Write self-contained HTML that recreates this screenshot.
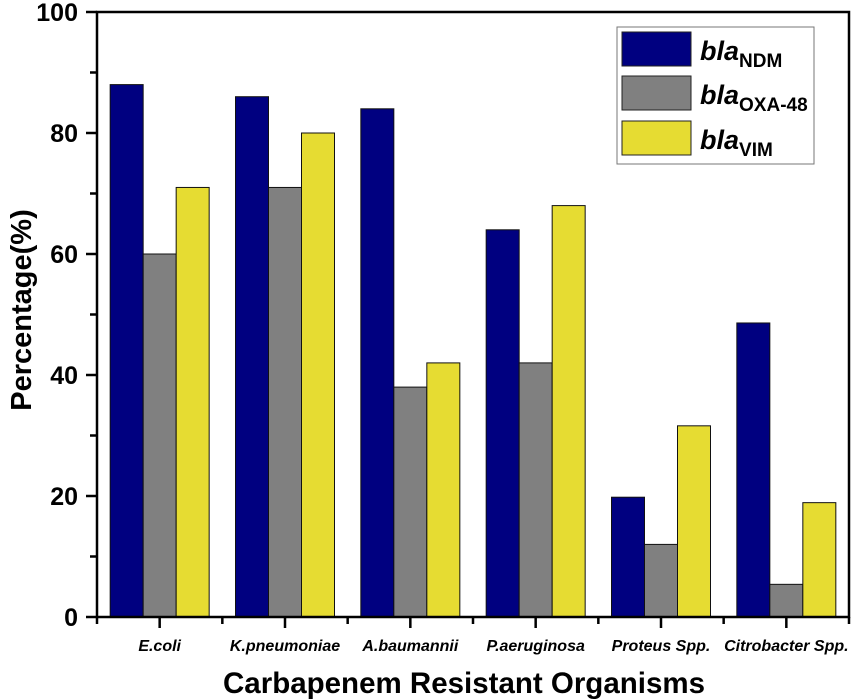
<!DOCTYPE html>
<html><head><meta charset="utf-8"><style>
body{margin:0;background:#fff}
svg{display:block;font-family:"Liberation Sans",Arial,sans-serif}
</style></head><body>
<svg id="chart" width="851" height="700" viewBox="0 0 851 700">
<rect x="0" y="0" width="851" height="700" fill="#fff"/>
<g id="bars"></g>
<g id="axes"></g>
<text x="31" y="310" transform="rotate(-90 31 310)" text-anchor="middle" font-size="29" font-weight="bold">Percentage(%)</text>
<text x="464" y="693" text-anchor="middle" font-size="29.5" font-weight="bold">Carbapenem Resistant Organisms</text>
<g>
<rect x="617" y="27" width="197" height="137" fill="#fff" stroke="#777" stroke-width="1"/>
<g>
<rect x="622" y="32" width="69" height="34" fill="#000080" stroke="#222" stroke-width="1"/>
<text x="700" y="60" font-size="27" font-weight="bold" font-style="italic">bla<tspan font-style="normal" font-size="19" dy="7">NDM</tspan></text></g>
<g>
<rect x="622" y="76" width="69" height="34" fill="#808080" stroke="#222" stroke-width="1"/>
<text x="700" y="104" font-size="27" font-weight="bold" font-style="italic">bla<tspan font-style="normal" font-size="19" dy="7">OXA-48</tspan></text></g>
<g>
<rect x="622" y="121" width="69" height="34" fill="#e6dc32" stroke="#222" stroke-width="1"/>
<text x="700" y="149" font-size="27" font-weight="bold" font-style="italic">bla<tspan font-style="normal" font-size="19" dy="7">VIM</tspan></text></g>
</g>
</svg>
<script>
const categories=["E.coli","K.pneumoniae","A.baumannii","P.aeruginosa","Proteus Spp.","Citrobacter Spp."];
const ndm=[88,86,84,64,19.8,48.6];
const oxa48=[60,71,38,42,12,5.4];
const vim=[71,80,42,68,31.6,18.9];
const yTicks=[0,20,40,60,80,100];
const NS="http://www.w3.org/2000/svg";
const L=97,R=849,T=12,B=617;
const step=(R-L)/categories.length;
function y(v){return B-(v/100)*(B-T);}
function xc(i){return L+step*(i+0.5);}
const bars=document.getElementById('bars'),axes=document.getElementById('axes');
function mk(tag,attrs,parent){const e=document.createElementNS(NS,tag);for(const k in attrs)e.setAttribute(k,attrs[k]);parent.appendChild(e);return e;}
const series=[[ndm,"#000080","ndm"],[oxa48,"#808080","oxa48"],[vim,"#e6dc32","vim"]];
const bw=33;
series.forEach((s,si)=>{s[0].forEach((v,i)=>{
 const r=mk('rect',{x:xc(i)+(si-1.5)*bw,y:y(v),width:bw,height:B-y(v),fill:s[1],stroke:"#111","stroke-width":1},bars);
 
 
});});
const frame=mk('rect',{x:L,y:T,width:R-L,height:B-T,fill:"none",stroke:"#000","stroke-width":2.5},axes);


yTicks.forEach(t=>{
 mk('line',{x1:L-11,x2:L,y1:y(t),y2:y(t),stroke:"#000","stroke-width":2.5},axes);
 const tx=mk('text',{x:L-19,y:y(t)+9,"text-anchor":"end","font-size":25,"font-weight":"bold"},axes);
 tx.textContent=t;
 
 
 if(t<100) mk('line',{x1:L-7,x2:L,y1:y(t+10),y2:y(t+10),stroke:"#000","stroke-width":2.5},axes);
});
for(let i=0;i<=categories.length;i++){mk('line',{x1:L+step*i,x2:L+step*i,y1:B,y2:B+7,stroke:"#000","stroke-width":2.5},axes);}
categories.forEach((c,i)=>{
 mk('line',{x1:xc(i),x2:xc(i),y1:B,y2:B+11,stroke:"#000","stroke-width":2.5},axes);
 const tx=mk('text',{x:xc(i),y:B+34,"text-anchor":"middle","font-size":16,"font-weight":"bold","font-style":"italic"},axes);
 tx.textContent=c;
 
 
});
</script>
</body></html>
